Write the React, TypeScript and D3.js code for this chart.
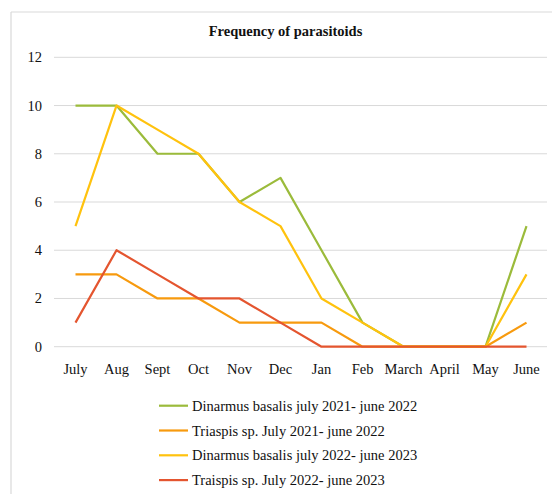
import React from "react";
import * as d3 from "d3";

const months = ["July", "Aug", "Sept", "Oct", "Nov", "Dec", "Jan", "Feb", "March", "April", "May", "June"];
const dinarmus2122 = [10, 10, 8, 8, 6, 7, 4, 1, 0, 0, 0, 5];
const triaspis2122 = [3, 3, 2, 2, 1, 1, 1, 0, 0, 0, 0, 1];
const dinarmus2223 = [5, 10, 9, 8, 6, 5, 2, 1, 0, 0, 0, 3];
const traispis2223 = [1, 4, 3, 2, 2, 1, 0, 0, 0, 0, 0, 0];
const yTicks = [0, 2, 4, 6, 8, 10, 12];
const seriesNames = [
  "Dinarmus basalis july 2021- june 2022",
  "Triaspis sp. July 2021- june 2022",
  "Dinarmus basalis july 2022- june 2023",
  "Traispis sp. July 2022- june 2023",
];
const seriesColors = ["#9BBB3B", "#F79A0E", "#FFC20E", "#E4552F"];
const seriesValues = [dinarmus2122, triaspis2122, dinarmus2223, traispis2223];

export default function App() {
  const W = 552, H = 494;
  const x = d3.scalePoint<string>().domain(months).range([55, 547]).padding(0.5);
  const y = d3.scaleLinear().domain([0, 12]).range([346.7, 57.3]);
  const line = d3.line<number>().x((_, i) => x(months[i])!).y((d) => y(d));
  const font = "'Liberation Serif', 'Times New Roman', serif";
  return (
    <svg width={W} height={H} style={{ position: "absolute", left: 0, top: 0 }} fontFamily={font}>
      <rect x={0} y={0} width={W} height={H} fill="#fff" />
      <line x1={11} y1={12} x2={W} y2={12} stroke="#d9d9d9" strokeWidth={1.2} />
      <line x1={11} y1={12} x2={11} y2={H} stroke="#d9d9d9" strokeWidth={1.2} />
      <text x={285.5} y={36} textAnchor="middle" fontWeight="bold" fontSize={14.5} fill="#111">
        Frequency of parasitoids
      </text>
      {yTicks.map((t) => (
        <g key={t}>
          <line x1={54} x2={547} y1={y(t)} y2={y(t)} stroke="#d9d9d9" strokeWidth={1} />
          <text x={42} y={y(t) + 5} textAnchor="end" fontSize={14.5} fill="#111">{t}</text>
        </g>
      ))}
      {months.map((m) => (
        <text key={m} x={x(m)} y={374} textAnchor="middle" fontSize={14.5} fill="#111">{m}</text>
      ))}
      {seriesValues.map((vals, i) => (
        <path key={i} d={line(vals)!} fill="none" stroke={seriesColors[i]} strokeWidth={2.2} strokeLinejoin="round" />
      ))}
      {seriesNames.map((n, i) => {
        const yy = 405.7 + i * 24.8;
        return (
          <g key={n}>
            <line x1={159} x2={188} y1={yy} y2={yy} stroke={seriesColors[i]} strokeWidth={2.2} />
            <text x={192} y={yy + 5} fontSize={14.5} fill="#111">{n}</text>
          </g>
        );
      })}
    </svg>
  );
}
